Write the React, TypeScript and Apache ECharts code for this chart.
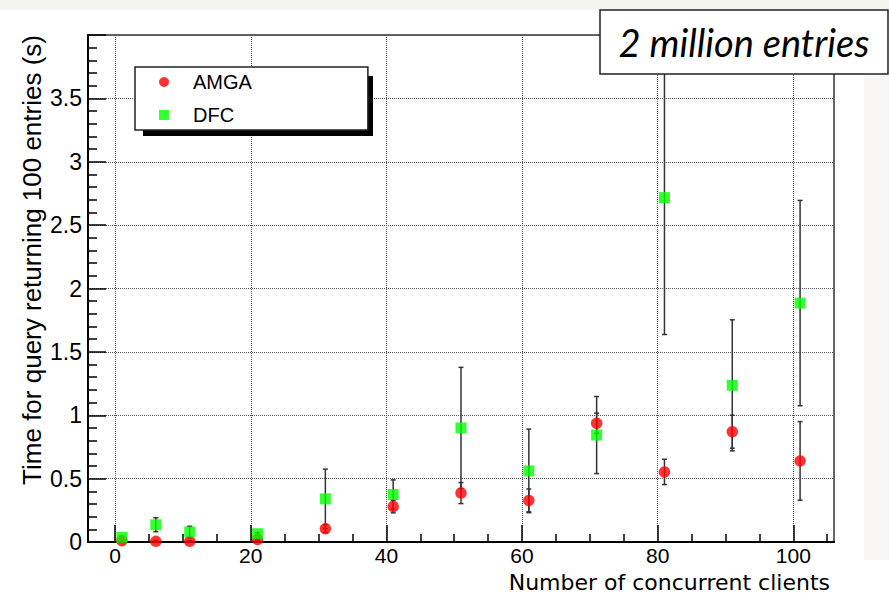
import React, { useEffect, useRef } from "react";
import * as echarts from "echarts";

const clients = [1, 6, 11, 21, 31, 41, 51, 61, 71, 81, 91, 101];
const amgaTime = [0.01, 0.005, 0.005, 0.02, 0.105, 0.28, 0.386, 0.328, 0.937, 0.553, 0.87, 0.64];
const amgaErr = [0.005, 0.005, 0.005, 0.005, 0.03, 0.05, 0.083, 0.09, 0.08, 0.1, 0.13, 0.31];
const dfcTime = [0.037, 0.136, 0.079, 0.065, 0.34, 0.375, 0.9, 0.561, 0.844, 2.717, 1.236, 1.885];
const dfcErr = [0.01, 0.055, 0.045, 0.01, 0.235, 0.115, 0.478, 0.33, 0.304, 1.08, 0.517, 0.81];

const xMajorTicks = [0, 20, 40, 60, 80, 100];
const xMinorTicks = [5, 10, 15, 25, 30, 35, 45, 50, 55, 65, 70, 75, 85, 90, 95, 105];

const seriesNames = ["AMGA", "DFC"];
const titleText = "2 million entries";
const xTitle = "Number of concurrent clients";
const yTitle = "Time for query returning 100 entries (s)";

const errorBar = (params: any, api: any) => {
  const x = api.value(0);
  const y = api.value(1);
  const e = api.value(2);
  const top = api.coord([x, y + e]);
  const bot = api.coord([x, y - e]);
  const w = 2.5;
  const style = { stroke: "#333", lineWidth: 1.5, fill: "none" };
  return {
    type: "group",
    children: [
      { type: "line", shape: { x1: top[0], y1: top[1], x2: bot[0], y2: bot[1] }, style },
      { type: "line", shape: { x1: top[0] - w, y1: top[1], x2: top[0] + w, y2: top[1] }, style },
      { type: "line", shape: { x1: bot[0] - w, y1: bot[1], x2: bot[0] + w, y2: bot[1] }, style },
    ],
  };
};

export default function App() {
  const ref = useRef<HTMLDivElement>(null);
  useEffect(() => {
    if (!ref.current) return;
    const chart = echarts.init(ref.current, null, { renderer: "svg" });
    const tickFont = { fontFamily: "Liberation Sans", fontSize: 21, color: "#000" };
    chart.setOption({
      animation: false,
      backgroundColor: "#ffffff",
      grid: {
        left: 88,
        top: 35,
        width: 746,
        height: 507,
        show: true,
        borderColor: "#333",
        borderWidth: 1.5,
        backgroundColor: "#fff",
      },
      legend: {
        orient: "vertical",
        left: 135,
        top: 67,
        z: 4,
        padding: [5, 116, 5, 24],
        itemGap: 13,
        itemWidth: 10,
        itemHeight: 10,
        backgroundColor: "#fff",
        borderColor: "#222",
        borderWidth: 1.5,
        borderRadius: 0,
        textStyle: { fontFamily: "Liberation Sans", fontSize: 20, color: "#000", padding: [0, 0, 0, 19] },
        data: [
          { name: seriesNames[0], icon: "circle" },
          { name: seriesNames[1], icon: "rect" },
        ],
      },
      xAxis: [
        {
          type: "value",
          min: -4,
          max: 106,
          axisLine: { show: true, onZero: false, lineStyle: { color: "#000", width: 2 } },
          axisTick: { show: true, inside: true, length: 17, customValues: xMajorTicks, lineStyle: { color: "#000", width: 1.5 } },
          axisLabel: { ...tickFont, margin: 3, customValues: xMajorTicks },
          splitLine: { show: true, lineStyle: { color: "#555", type: "dotted", width: 1 } },
        },
        {
          type: "value",
          min: -4,
          max: 106,
          position: "bottom",
          axisLine: { show: false },
          axisTick: { show: true, inside: true, length: 8, customValues: xMinorTicks, lineStyle: { color: "#000", width: 1.5 } },
          axisLabel: { show: false },
          splitLine: { show: false },
        },
      ],
      yAxis: {
        type: "value",
        min: 0,
        max: 4,
        interval: 0.5,
        axisLine: { show: true, onZero: false, lineStyle: { color: "#000", width: 2 } },
        axisTick: { show: true, inside: true, length: 18, lineStyle: { color: "#000", width: 1.5 } },
        minorTick: { show: true, splitNumber: 5, length: 9, lineStyle: { color: "#000", width: 1.5 } },
        axisLabel: { ...tickFont, fontSize: 23, margin: 6, showMaxLabel: false },
        splitLine: { show: true, lineStyle: { color: "#555", type: "dotted", width: 1 } },
      },
      series: [
        {
          name: "AMGA err",
          type: "custom",
          z: 1,
          renderItem: errorBar,
          data: clients.map((c, i) => [c, amgaTime[i], amgaErr[i]]),
        },
        {
          name: "DFC err",
          type: "custom",
          z: 1,
          renderItem: errorBar,
          data: clients.map((c, i) => [c, dfcTime[i], dfcErr[i]]),
        },
        {
          name: seriesNames[0],
          type: "scatter",
          z: 2,
          symbol: "circle",
          symbolSize: 11.5,
          itemStyle: { color: "#ff0000" },
          data: clients.map((c, i) => [c, amgaTime[i]]),
        },
        {
          name: seriesNames[1],
          type: "scatter",
          z: 3,
          symbol: "rect",
          symbolSize: 11,
          itemStyle: { color: "#00ff00" },
          data: clients.map((c, i) => [c, dfcTime[i]]),
        },
      ],
      graphic: [
        { type: "rect", z: -10, silent: true, shape: { x: 0, y: 0, width: 889, height: 10 }, style: { fill: "#f6f4f1" } },
        { type: "rect", z: -10, silent: true, shape: { x: 864, y: 76, width: 25, height: 484 }, style: { fill: "#f8f6f4" } },
        { type: "rect", z: 3, silent: true, shape: { x: 143, y: 76, width: 230, height: 60 }, style: { fill: "#000" } },
        { type: "rect", z: 10, silent: true, shape: { x: 600, y: 10, width: 288, height: 64 }, style: { fill: "#fff", stroke: "#222", lineWidth: 1.5 } },
        {
          type: "text",
          z: 11,
          silent: true,
          x: 744,
          y: 42,
          style: { text: titleText, font: "italic 38px Lato", fill: "#000", textAlign: "center", textVerticalAlign: "middle" },
        },
        {
          type: "text",
          z: 11,
          silent: true,
          x: 830,
          y: 582,
          style: { text: xTitle, font: "22px 'DejaVu Sans'", fill: "#000", textAlign: "right", textVerticalAlign: "middle" },
        },
        {
          type: "text",
          z: 11,
          silent: true,
          x: 32,
          y: 35,
          rotation: Math.PI / 2,
          style: { text: yTitle, font: "26px 'Liberation Sans'", fill: "#000", textAlign: "right", textVerticalAlign: "middle" },
        },
      ],
    });
    return () => chart.dispose();
  }, []);
  return <div ref={ref} style={{ position: "fixed", left: 0, top: 0, width: 889, height: 595 }} />;
}
